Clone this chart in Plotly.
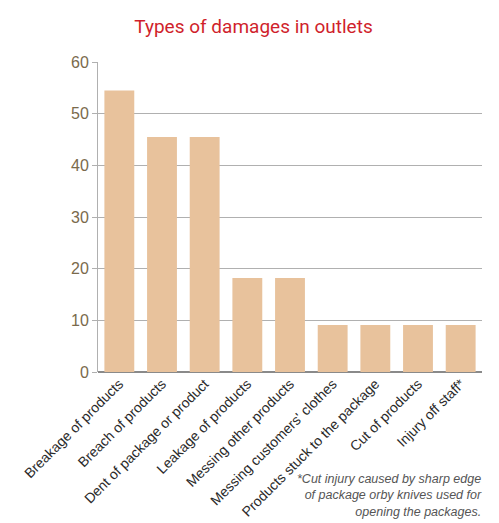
import plotly.graph_objects as go

categories = [
    "Breakage of products",
    "Breach of products",
    "Dent of package or product",
    "Leakage of products",
    "Messing other products",
    "Messing customers' clothes",
    "Products stuck to the package",
    "Cut of products",
    "Injury off staff*",
]
values = [54.5, 45.5, 45.5, 18.2, 18.2, 9.1, 9.1, 9.1, 9.1]
y_ticks = [0, 10, 20, 30, 40, 50, 60]
title_text = "Types of damages in outlets"
footnote = ("*Cut injury caused by sharp edge<br>of package orby knives used for<br>"
            "opening the packages.")

FONT = "Liberation Sans"

fig = go.Figure(go.Bar(
    x=categories, y=values,
    marker=dict(color="#e8c29c", line=dict(width=0)),
))

fig.update_layout(
    width=491, height=515,
    margin=dict(l=90, r=17, t=54, b=151, autoexpand=False),
    paper_bgcolor="white", plot_bgcolor="white",
    bargap=0.3,
    showlegend=False,
    title=dict(text=title_text, x=0.5, xanchor="center", y=0.965, yanchor="middle",
               font=dict(family="Roboto", size=19, color="#d01f2c")),
    font=dict(family=FONT),
)
fig.update_yaxes(
    range=[0, 60], tickvals=y_ticks, automargin=False,
    showgrid=True, gridcolor="#b0b0b0", gridwidth=1,
    showline=True, linecolor="#b0b0b0", linewidth=1,
    ticks="outside", ticklen=5, tickcolor="#b0b0b0",
    tickfont=dict(family=FONT, size=16, color="#7a6a4c"),
    zeroline=True, zerolinecolor="#8a8a8a", zerolinewidth=2,
)
fig.update_xaxes(
    tickangle=-45, automargin=False,
    tickfont=dict(family=FONT, size=14, color="#2a2a2a"),
    showline=False, ticks="",
)
fig.add_annotation(
    text="<i>" + footnote + "</i>", xref="paper", yref="paper",
    x=1.005, y=0.0, yshift=-98, xanchor="right", yanchor="top", align="right",
    showarrow=False,
    font=dict(family=FONT, size=12.5, color="#555555"),
)
fig.write_html("out.html")
